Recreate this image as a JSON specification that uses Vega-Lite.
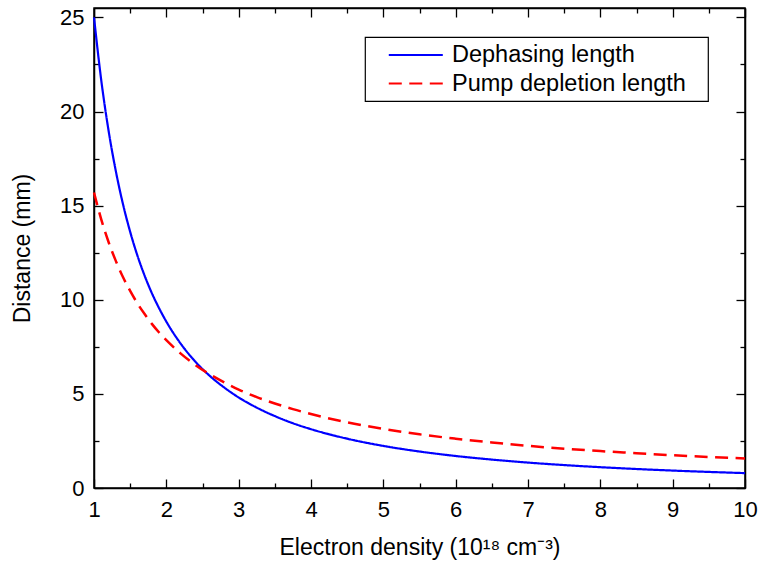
{
  "$schema": "https://vega.github.io/schema/vega-lite/v6.json",
  "width": 651,
  "height": 480,
  "autosize": {"type": "none"},
  "padding": {"left": 94, "top": 8, "right": 14, "bottom": 75},
  "config": {
    "font": "Liberation Sans",
    "view": {"stroke": "#000", "strokeWidth": 1.5},
    "axis": {
      "domainColor": "#000", "domainWidth": 1.5, "tickColor": "#000", "tickWidth": 1.3,
      "labelFont": "Liberation Sans", "labelFontSize": 22, "labelColor": "#000",
      "titleFont": "Liberation Sans", "titleFontSize": 23, "titleFontWeight": "normal", "titleColor": "#000",
      "grid": false
    },
    "legend": {
      "orient": "none", "legendX": 271, "legendY": 29,
      "strokeColor": "#000", "strokeWidth": 1.2, "fillColor": "#fff", "padding": 6,
      "symbolType": "M-4,0H1", "symbolSize": 467, "symbolStrokeWidth": 2.2, "symbolOffset": 49,
      "labelFont": "Liberation Sans", "labelFontSize": 23.5, "labelColor": "#000", "labelLimit": 0,
      "labelOffset": 8, "rowPadding": 4.5,
      "titleOrient": "right", "titleFontSize": 1, "titlePadding": 16, "titleColor": "#fff"
    }
  },
  "datasets": {
    "d": [
      {"n": 1.0, "v": 25.0, "series": "Dephasing length"},
      {"n": 1.1, "v": 21.67, "series": "Dephasing length"},
      {"n": 1.2, "v": 19.02, "series": "Dephasing length"},
      {"n": 1.3, "v": 16.87, "series": "Dephasing length"},
      {"n": 1.4, "v": 15.09, "series": "Dephasing length"},
      {"n": 1.5, "v": 13.61, "series": "Dephasing length"},
      {"n": 1.6, "v": 12.35, "series": "Dephasing length"},
      {"n": 1.7, "v": 11.28, "series": "Dephasing length"},
      {"n": 1.8, "v": 10.35, "series": "Dephasing length"},
      {"n": 1.9, "v": 9.55, "series": "Dephasing length"},
      {"n": 2.0, "v": 8.84, "series": "Dephasing length"},
      {"n": 2.2, "v": 7.66, "series": "Dephasing length"},
      {"n": 2.4, "v": 6.72, "series": "Dephasing length"},
      {"n": 2.6, "v": 5.96, "series": "Dephasing length"},
      {"n": 2.8, "v": 5.34, "series": "Dephasing length"},
      {"n": 3.0, "v": 4.81, "series": "Dephasing length"},
      {"n": 3.25, "v": 4.27, "series": "Dephasing length"},
      {"n": 3.5, "v": 3.82, "series": "Dephasing length"},
      {"n": 3.75, "v": 3.44, "series": "Dephasing length"},
      {"n": 4.0, "v": 3.125, "series": "Dephasing length"},
      {"n": 4.5, "v": 2.62, "series": "Dephasing length"},
      {"n": 5.0, "v": 2.236, "series": "Dephasing length"},
      {"n": 5.5, "v": 1.938, "series": "Dephasing length"},
      {"n": 6.0, "v": 1.701, "series": "Dephasing length"},
      {"n": 6.5, "v": 1.509, "series": "Dephasing length"},
      {"n": 7.0, "v": 1.35, "series": "Dephasing length"},
      {"n": 7.5, "v": 1.217, "series": "Dephasing length"},
      {"n": 8.0, "v": 1.105, "series": "Dephasing length"},
      {"n": 8.5, "v": 1.009, "series": "Dephasing length"},
      {"n": 9.0, "v": 0.926, "series": "Dephasing length"},
      {"n": 9.5, "v": 0.854, "series": "Dephasing length"},
      {"n": 10.0, "v": 0.791, "series": "Dephasing length"},
      {"n": 1.0, "v": 15.7, "series": "Pump depletion length"},
      {"n": 1.1, "v": 14.27, "series": "Pump depletion length"},
      {"n": 1.2, "v": 13.08, "series": "Pump depletion length"},
      {"n": 1.3, "v": 12.08, "series": "Pump depletion length"},
      {"n": 1.4, "v": 11.21, "series": "Pump depletion length"},
      {"n": 1.5, "v": 10.47, "series": "Pump depletion length"},
      {"n": 1.6, "v": 9.81, "series": "Pump depletion length"},
      {"n": 1.7, "v": 9.24, "series": "Pump depletion length"},
      {"n": 1.8, "v": 8.72, "series": "Pump depletion length"},
      {"n": 1.9, "v": 8.26, "series": "Pump depletion length"},
      {"n": 2.0, "v": 7.85, "series": "Pump depletion length"},
      {"n": 2.2, "v": 7.14, "series": "Pump depletion length"},
      {"n": 2.4, "v": 6.54, "series": "Pump depletion length"},
      {"n": 2.6, "v": 6.04, "series": "Pump depletion length"},
      {"n": 2.8, "v": 5.61, "series": "Pump depletion length"},
      {"n": 3.0, "v": 5.23, "series": "Pump depletion length"},
      {"n": 3.25, "v": 4.83, "series": "Pump depletion length"},
      {"n": 3.5, "v": 4.49, "series": "Pump depletion length"},
      {"n": 3.75, "v": 4.19, "series": "Pump depletion length"},
      {"n": 4.0, "v": 3.93, "series": "Pump depletion length"},
      {"n": 4.5, "v": 3.49, "series": "Pump depletion length"},
      {"n": 5.0, "v": 3.14, "series": "Pump depletion length"},
      {"n": 5.5, "v": 2.85, "series": "Pump depletion length"},
      {"n": 6.0, "v": 2.62, "series": "Pump depletion length"},
      {"n": 6.5, "v": 2.42, "series": "Pump depletion length"},
      {"n": 7.0, "v": 2.24, "series": "Pump depletion length"},
      {"n": 7.5, "v": 2.09, "series": "Pump depletion length"},
      {"n": 8.0, "v": 1.96, "series": "Pump depletion length"},
      {"n": 8.5, "v": 1.85, "series": "Pump depletion length"},
      {"n": 9.0, "v": 1.74, "series": "Pump depletion length"},
      {"n": 9.5, "v": 1.65, "series": "Pump depletion length"},
      {"n": 10.0, "v": 1.57, "series": "Pump depletion length"}
    ]
  },
  "data": {"name": "d"},
  "resolve": {"axis": {"x": "independent", "y": "independent"}},
  "layer": [
    {
      "transform": [{"filter": "datum.series === 'Dephasing length'"}],
      "mark": {"type": "line", "strokeWidth": 2.2, "interpolate": "monotone"},
      "encoding": {
        "x": {"field": "n", "type": "quantitative", "scale": {"domain": [1, 10], "nice": false, "zero": false},
          "axis": {"orient": "bottom", "title": "Electron density (10¹⁸ cm⁻³)",
            "values": [1,1.5,2,2.5,3,3.5,4,4.5,5,5.5,6,6.5,7,7.5,8,8.5,9,9.5,10],
            "tickSize": {"condition": {"test": "datum.value % 1 !== 0", "value": -5}, "value": -9},
            "labelExpr": "datum.value % 1 === 0 ? format(datum.value, 'd') : ''",
            "labelPadding": 20, "titlePadding": 12, "labelFlush": false, "labelOverlap": false}},
        "y": {"field": "v", "type": "quantitative", "scale": {"domain": [0, 25.5], "nice": false},
          "axis": {"orient": "left", "title": "Distance (mm)",
            "values": [0,2.5,5,7.5,10,12.5,15,17.5,20,22.5,25],
            "tickSize": {"condition": {"test": "datum.value % 5 !== 0", "value": -5}, "value": -9},
            "labelExpr": "datum.value % 5 === 0 ? format(datum.value, 'd') : ''",
            "labelPadding": 19, "titlePadding": 25, "labelOverlap": false}},
        "color": {"field": "series", "type": "nominal", "title": "\u00a0",
          "scale": {"domain": ["Dephasing length", "Pump depletion length"], "range": ["#0000ff", "#ff0000"]}},
        "strokeDash": {"field": "series", "type": "nominal", "title": "\u00a0",
          "scale": {"domain": ["Dephasing length", "Pump depletion length"], "range": [[1, 0], [13, 7.5]]}}
      }
    },
    {
      "transform": [{"filter": "datum.series === 'Pump depletion length'"}],
      "mark": {"type": "line", "strokeWidth": 2.5, "interpolate": "monotone"},
      "encoding": {
        "x": {"field": "n", "type": "quantitative",
          "axis": {"orient": "top", "title": null, "labels": false,
            "values": [1,1.5,2,2.5,3,3.5,4,4.5,5,5.5,6,6.5,7,7.5,8,8.5,9,9.5,10],
            "tickSize": {"condition": {"test": "datum.value % 1 !== 0", "value": -5}, "value": -9}}},
        "y": {"field": "v", "type": "quantitative",
          "axis": {"orient": "right", "title": null, "labels": false,
            "values": [0,2.5,5,7.5,10,12.5,15,17.5,20,22.5,25],
            "tickSize": {"condition": {"test": "datum.value % 5 !== 0", "value": -5}, "value": -9}}},
        "color": {"field": "series", "type": "nominal", "title": "\u00a0"},
        "strokeDash": {"field": "series", "type": "nominal", "title": "\u00a0"}
      }
    }
  ]
}
